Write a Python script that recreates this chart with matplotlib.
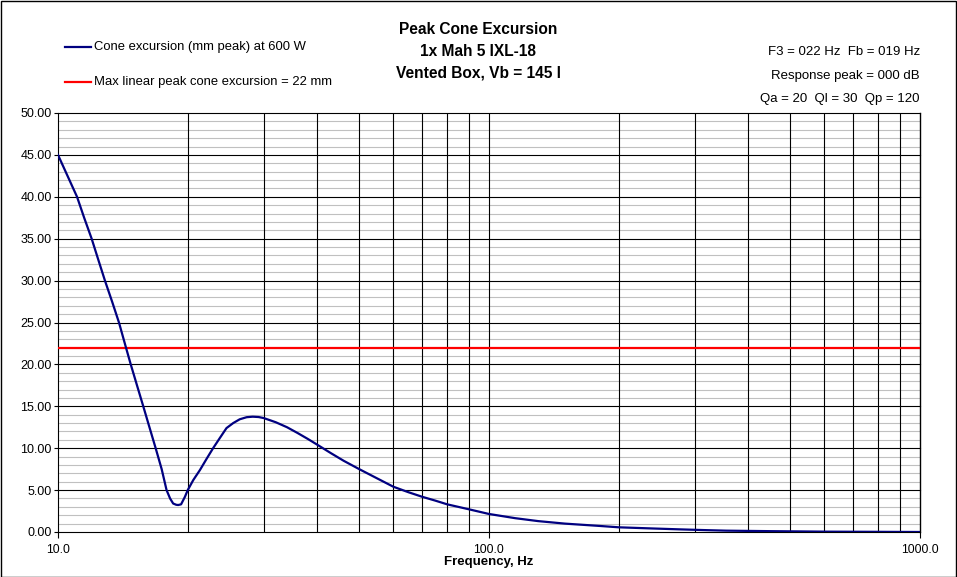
import matplotlib
matplotlib.use("Agg")
import matplotlib.pyplot as plt
from matplotlib.ticker import FixedLocator, NullFormatter
from matplotlib.lines import Line2D

plt.rcParams['font.family'] = ['Liberation Sans', 'DejaVu Sans']

# Data
freq_hz = [10.0, 10.5, 11.07, 11.5, 11.97, 12.4, 12.85, 13.35, 13.85, 14.38, 14.75,
           15.25, 15.77, 16.3, 16.85, 17.4, 17.86, 18.2, 18.5, 18.8, 19.0, 19.3,
           19.7, 20.0, 20.6, 21.35, 22.1, 22.9, 23.8, 24.6, 25.5, 26.4, 27.4, 28.3,
           29.2, 30.0, 32.0, 34.0, 36.0, 38.0, 40.0, 43.0, 46.0, 50.0, 55.0, 60.0,
           65.0, 70.0, 75.0, 80.0, 90.0, 100.0, 115.0, 130.0, 150.0, 181.0, 200.0,
           240.0, 275.0, 320.0, 355.0, 450.0, 610.0, 800.0, 1000.0]
excursion_mm = [45.0, 42.6, 40.0, 37.5, 35.0, 32.5, 30.0, 27.5, 25.0, 22.0, 20.0,
                17.5, 15.0, 12.5, 10.0, 7.5, 5.0, 4.0, 3.4, 3.25, 3.22, 3.3,
                4.2, 5.0, 6.2, 7.4, 8.7, 10.0, 11.3, 12.4, 13.0, 13.45, 13.7, 13.76,
                13.72, 13.6, 13.1, 12.5, 11.8, 11.1, 10.4, 9.4, 8.5, 7.5, 6.4, 5.4,
                4.75, 4.2, 3.75, 3.3, 2.7, 2.15, 1.65, 1.3, 1.0, 0.72, 0.56,
                0.42, 0.32, 0.22, 0.16, 0.1, 0.04, 0.02, 0.0]
xmax_mm = 22.0

title_lines = ["Peak Cone Excursion", "1x Mah 5 IXL-18", "Vented Box, Vb = 145 l"]
info_lines = ["F3 = 022 Hz  Fb = 019 Hz", "Response peak = 000 dB", "Qa = 20  Ql = 30  Qp = 120"]
legend_labels = ["Cone excursion (mm peak) at 600 W",
                 "Max linear peak cone excursion = 22 mm"]
x_ticks = [10, 100, 1000]
x_tick_labels = ["10.0", "100.0", "1000.0"]
y_ticks = [0, 5, 10, 15, 20, 25, 30, 35, 40, 45, 50]
y_tick_labels = ["0.00", "5.00", "10.00", "15.00", "20.00", "25.00",
                 "30.00", "35.00", "40.00", "45.00", "50.00"]

W, H = 957, 577
fig = plt.figure(figsize=(W / 100, H / 100), dpi=100)
fig.patch.set_facecolor('white')

left, right, top, bottom = 58, 920, 113, 532
ax = fig.add_axes([left / W, (H - bottom) / H, (right - left) / W, (bottom - top) / H])

ax.set_xscale('log')
ax.set_xlim(10, 1000)
ax.set_ylim(0, 50)

# grid
for y in range(1, 50):
    if y % 5 != 0:
        ax.axhline(y, color='#c0c0c0', lw=0.8, zorder=1)
for y in range(5, 51, 5):
    ax.axhline(y, color='black', lw=0.8, zorder=2, clip_on=False)
for dec in (10, 100):
    for m in range(1, 10):
        f = dec * m
        if 10 < f < 1000:
            ax.axvline(f, color='black', lw=0.8, zorder=2)

ax.plot(freq_hz, excursion_mm, color='#000080', lw=1.6, zorder=4)
ax.axhline(xmax_mm, color='#ff0000', lw=1.6, zorder=3)

for s in ('left', 'bottom'):
    ax.spines[s].set_linewidth(0.8)
    ax.spines[s].set_color('black')
ax.spines['top'].set_visible(False)
ax.spines['right'].set_visible(False)
ax.axvline(1000, color='black', lw=1.0, zorder=2, clip_on=False)

ax.xaxis.set_major_locator(FixedLocator(x_ticks))
ax.set_xticklabels(x_tick_labels)
ax.xaxis.set_minor_locator(FixedLocator([]))
ax.xaxis.set_minor_formatter(NullFormatter())
ax.yaxis.set_major_locator(FixedLocator(y_ticks))
ax.set_yticklabels(y_tick_labels)
ax.tick_params(axis='x', direction='out', length=4, width=0.8, pad=4.5, labelsize=8.8)
ax.tick_params(axis='y', direction='out', length=3, width=0.8, pad=1.5, labelsize=9)

fig.text(489 / W, 1 - 562 / H, "Frequency, Hz", ha='center', va='center',
         fontsize=9.5, fontweight='bold')

for i, t in enumerate(title_lines):
    fig.text(478 / W, 1 - (30 + 21.5 * i) / H, t, ha='center', va='center',
             fontsize=11.2, fontweight='bold')

for i, t in enumerate(info_lines):
    fig.text(920 / W, 1 - (52 + 23.5 * i) / H, t, ha='right', va='center', fontsize=9.5)

for i, (lab, col) in enumerate(zip(legend_labels, ['#000080', '#ff0000'])):
    yy = 1 - (47 + 35 * i) / H
    fig.add_artist(Line2D([65 / W, 91 / W], [yy, yy], color=col, lw=1.6,
                          transform=fig.transFigure))
    fig.text(94 / W, yy, lab, ha='left', va='center', fontsize=9.4)

# figure border
fig.add_artist(plt.Rectangle((0.5 / W, 0.5 / H), 1 - 1.5 / W, 1 - 1.5 / H,
                             fill=False, edgecolor='black', lw=1.0,
                             transform=fig.transFigure))

fig.savefig("out.png", dpi=100, facecolor='white')
